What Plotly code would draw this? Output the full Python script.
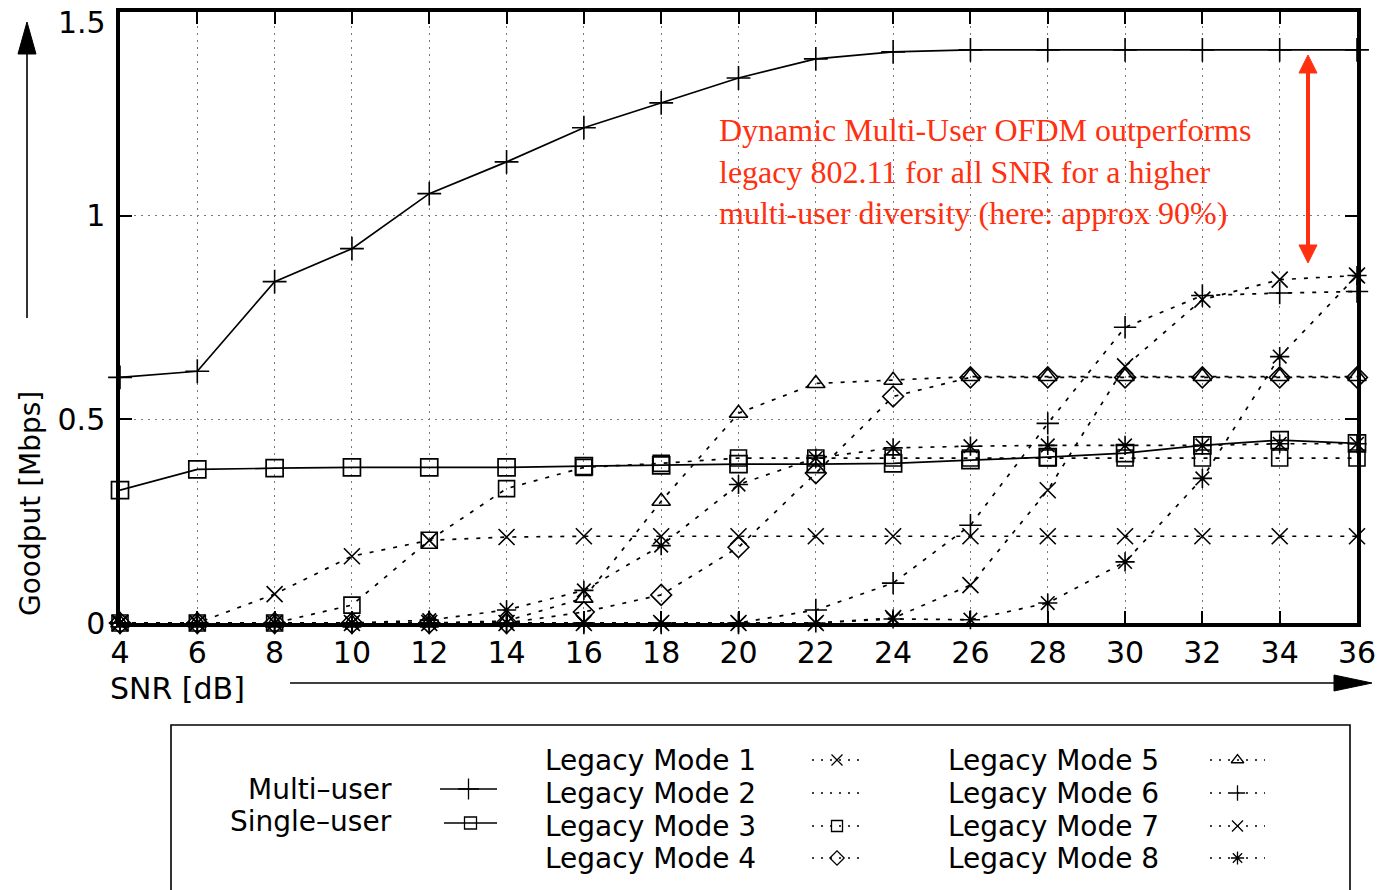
import plotly.graph_objects as go

W, H = 1380, 890

snr = [4, 6, 8, 10, 12, 14, 16, 18, 20, 22, 24, 26, 28, 30, 32, 34, 36]
multi_user = [0.603, 0.618, 0.838, 0.919, 1.054, 1.132, 1.216, 1.277, 1.338, 1.385, 1.402, 1.407, 1.407, 1.407, 1.407, 1.407, 1.407]
single_user = [0.326, 0.377, 0.380, 0.382, 0.382, 0.382, 0.385, 0.387, 0.390, 0.390, 0.392, 0.400, 0.407, 0.417, 0.436, 0.449, 0.441]
legacy1 = [0, 0, 0.071, 0.164, 0.203, 0.211, 0.213, 0.213, 0.213, 0.213, 0.213, 0.213, 0.213, 0.213, 0.213, 0.213, 0.213]
legacy2 = [0, 0, 0, 0, 0.007, 0.032, 0.080, 0.190, 0.340, 0.405, 0.430, 0.434, 0.436, 0.436, 0.436, 0.440, 0.440]
legacy3 = [0, 0, 0, 0.044, 0.203, 0.330, 0.382, 0.392, 0.405, 0.405, 0.405, 0.405, 0.405, 0.405, 0.405, 0.405, 0.405]
legacy4 = [0, 0, 0, 0, 0, 0, 0.027, 0.069, 0.186, 0.368, 0.556, 0.603, 0.603, 0.603, 0.603, 0.603, 0.603]
legacy5 = [0, 0, 0, 0, 0, 0.005, 0.061, 0.299, 0.515, 0.588, 0.596, 0.605, 0.605, 0.605, 0.605, 0.605, 0.605]
legacy6 = [0, 0, 0, 0, 0, 0, 0, 0, 0, 0.032, 0.098, 0.240, 0.490, 0.726, 0.804, 0.810, 0.814]
legacy7 = [0, 0, 0, 0, 0, 0, 0, 0, 0, 0, 0.012, 0.093, 0.326, 0.630, 0.794, 0.843, 0.853]
legacy8 = [0, 0, 0, 0, 0, 0, 0, 0, 0, 0, 0.010, 0.008, 0.049, 0.150, 0.355, 0.654, 0.853]

y_ticks = [0, 0.5, 1, 1.5]
y_ticktext = ["0", "0.5", "1", ""]
y_top_label = "1.5"

legacy_names = ["Legacy Mode %d" % i for i in range(1, 9)]
legacy_series = [legacy1, legacy2, legacy3, legacy4, legacy5, legacy6, legacy7, legacy8]
legacy_symbols = ["x-thin", "asterisk", "square-open", "diamond-open",
                  "triangle-up-open", "cross-thin", "x-thin", "asterisk"]
legacy_legend_symbols = ["x-thin", None, "square-open", "diamond-open",
                         "triangle-up-open", "cross-thin", "x-thin", "asterisk"]

FONT = "DejaVu Sans"
RED = "#ff3010"
LEG_SIZE = 28


def px(x):
    return x / W


def py(y):
    return 1 - y / H


fig = go.Figure()

for name, ys, sym in zip(legacy_names, legacy_series, legacy_symbols):
    fig.add_trace(go.Scatter(
        x=snr, y=ys, name=name, mode="lines+markers", cliponaxis=False,
        line=dict(color="black", width=1.7, dash="4px,8px"),
        marker=dict(symbol=sym, size=16, color="black",
                    line=dict(color="black", width=1.6)),
        showlegend=False))

fig.add_trace(go.Scatter(
    x=snr, y=single_user, name="Single-user", mode="lines+markers", cliponaxis=False,
    line=dict(color="black", width=1.7),
    marker=dict(symbol="square-open", size=17, color="black",
                line=dict(color="black", width=1.7)),
    showlegend=False))
fig.add_trace(go.Scatter(
    x=snr, y=multi_user, name="Multi-user", mode="lines+markers", cliponaxis=False,
    line=dict(color="black", width=1.7),
    marker=dict(symbol="cross-thin", size=17, color="black",
                line=dict(color="black", width=1.6)),
    showlegend=False))

# ---- custom legend (helper axis mapped to pixels) ----
def legend_sample(x0, x1, yc, symbol, solid, msize=11):
    xm = (x0 + x1) / 2
    fig.add_trace(go.Scatter(
        x=[x0, x1], y=[yc, yc], mode="lines", xaxis="x2", yaxis="y2",
        line=dict(color="black", width=1.6 if solid else 1.4,
                  dash="solid" if solid else "2px,7px"),
        showlegend=False, hoverinfo="skip"))
    if symbol:
        fig.add_trace(go.Scatter(
            x=[xm], y=[yc], mode="markers", xaxis="x2", yaxis="y2",
            marker=dict(symbol=symbol, size=msize, color="black",
                        line=dict(color="black", width=1.3)),
            showlegend=False, hoverinfo="skip"))

legend_sample(440, 497, 789, "cross-thin", True, 15)
legend_sample(444, 497, 823, "square-open", True, 12)
rows = [760, 793, 826, 858]
for i in range(4):
    legend_sample(812, 862, rows[i], legacy_legend_symbols[i], False)
    legend_sample(1210, 1265, rows[i], legacy_legend_symbols[i + 4], False)

annotations = []
for i in range(4):
    annotations.append(dict(text=legacy_names[i], x=px(543), y=py(rows[i]),
                            xref="paper", yref="paper", xanchor="left", yanchor="middle",
                            showarrow=False, font=dict(family=FONT, size=LEG_SIZE, color="black")))
    annotations.append(dict(text=legacy_names[i + 4], x=px(946), y=py(rows[i]),
                            xref="paper", yref="paper", xanchor="left", yanchor="middle",
                            showarrow=False, font=dict(family=FONT, size=LEG_SIZE, color="black")))
annotations.append(dict(text="Multi–user", x=px(394), y=py(789), xref="paper", yref="paper",
                        xanchor="right", yanchor="middle", showarrow=False,
                        font=dict(family=FONT, size=LEG_SIZE, color="black")))
annotations.append(dict(text="Single–user", x=px(394), y=py(821), xref="paper", yref="paper",
                        xanchor="right", yanchor="middle", showarrow=False,
                        font=dict(family=FONT, size=LEG_SIZE, color="black")))

# top y tick label (kept inside the canvas)
annotations.append(dict(text=y_top_label, x=px(108), y=py(23), xref="paper", yref="paper",
                        xanchor="right", yanchor="middle", showarrow=False,
                        font=dict(family=FONT, size=30, color="black")))

# axis titles
annotations.append(dict(text="Goodput [Mbps]", x=px(30), y=py(504), xref="paper", yref="paper",
                        textangle=-90, xanchor="center", yanchor="middle", showarrow=False,
                        font=dict(family=FONT, size=28, color="black")))
annotations.append(dict(text="SNR [dB]", x=px(108), y=py(688), xref="paper", yref="paper",
                        xanchor="left", yanchor="middle", showarrow=False,
                        font=dict(family=FONT, size=30, color="black")))

# red annotation
annotations.append(dict(
    text="Dynamic Multi-User OFDM outperforms<br>legacy 802.11 for all SNR for a higher<br>multi-user diversity (here: approx 90%)",
    x=px(717), y=py(110), xref="paper", yref="paper", xanchor="left", yanchor="top",
    align="left", showarrow=False,
    font=dict(family="Liberation Serif", size=32, color=RED)))

shapes = []
# legend box
shapes.append(dict(type="rect", xref="paper", yref="paper",
                   x0=px(171), x1=px(1350), y0=py(900), y1=py(725),
                   line=dict(color="black", width=1.6), fillcolor="rgba(0,0,0,0)"))
# y arrow
shapes.append(dict(type="line", xref="paper", yref="paper",
                   x0=px(27), x1=px(27), y0=py(318), y1=py(50),
                   line=dict(color="black", width=1.6)))
shapes.append(dict(type="path", xref="paper", yref="paper",
                   path="M %f,%f L %f,%f L %f,%f Z" % (px(27), py(22), px(18), py(54), px(36), py(54)),
                   fillcolor="black", line=dict(color="black", width=1)))
# x arrow
shapes.append(dict(type="line", xref="paper", yref="paper",
                   x0=px(290), x1=px(1340), y0=py(683), y1=py(683),
                   line=dict(color="black", width=1.6)))
shapes.append(dict(type="path", xref="paper", yref="paper",
                   path="M %f,%f L %f,%f L %f,%f Z" % (px(1372), py(683), px(1334), py(675), px(1334), py(691)),
                   fillcolor="black", line=dict(color="black", width=1)))
# red double arrow
shapes.append(dict(type="line", xref="paper", yref="paper",
                   x0=px(1308), x1=px(1308), y0=py(68), y1=py(250),
                   line=dict(color=RED, width=4)))
shapes.append(dict(type="path", xref="paper", yref="paper",
                   path="M %f,%f L %f,%f L %f,%f Z" % (px(1308), py(55), px(1299), py(73), px(1317), py(73)),
                   fillcolor=RED, line=dict(color=RED, width=1)))
shapes.append(dict(type="path", xref="paper", yref="paper",
                   path="M %f,%f L %f,%f L %f,%f Z" % (px(1308), py(263), px(1299), py(245), px(1317), py(245)),
                   fillcolor=RED, line=dict(color=RED, width=1)))

axis_common = dict(showline=True, linewidth=3.5, linecolor="black", mirror="allticks",
                   ticks="inside", ticklen=12, tickwidth=1.5, tickcolor="black",
                   showgrid=True, gridcolor="#7a7a7a", gridwidth=1, griddash="2px,5px",
                   zeroline=False, automargin=False,
                   tickfont=dict(family=FONT, size=30, color="black"))

fig.update_layout(
    width=W, height=H,
    margin=dict(l=0, r=0, t=0, b=0, autoexpand=False),
    paper_bgcolor="white", plot_bgcolor="white",
    xaxis=dict(domain=[px(120), px(1357)], range=[4, 36], tickvals=snr,
               anchor="y", ticklabelstandoff=0, **axis_common),
    yaxis=dict(domain=[py(623), py(12)], range=[0, 1.5], tickvals=y_ticks,
               ticktext=y_ticktext, anchor="x", ticklabelstandoff=5, **axis_common),
    xaxis2=dict(domain=[0, 1], range=[0, W], visible=False, anchor="y2", automargin=False),
    yaxis2=dict(domain=[0, py(706)], range=[H, 706], visible=False, anchor="x2", automargin=False),
    annotations=annotations,
    shapes=shapes,
    showlegend=False,
)

fig.write_html("out.html")
